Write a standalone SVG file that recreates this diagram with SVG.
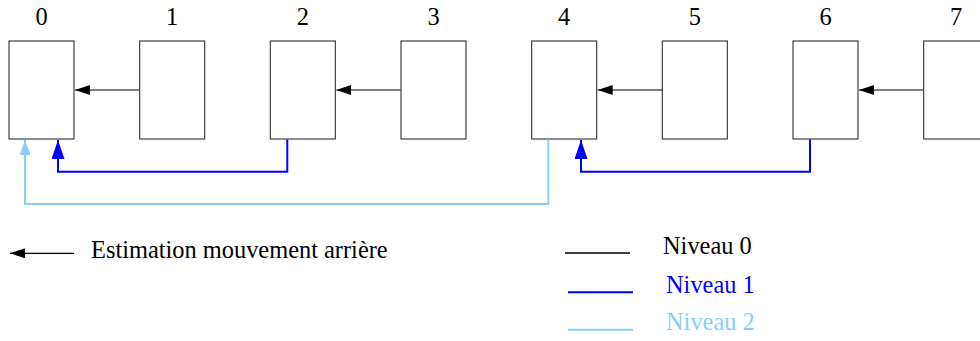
<svg xmlns="http://www.w3.org/2000/svg" width="980" height="341" viewBox="0 0 980 341">
<style>
.box{fill:#fff;stroke:#404040;stroke-width:1.2}
.lbl{font-family:"Liberation Serif","Times New Roman",serif;font-size:24.4px;text-anchor:middle;fill:#000}
.txt{font-family:"Liberation Serif","Times New Roman",serif;font-size:24.4px;fill:#000}
.k{stroke:#555;stroke-width:1.3;fill:none}
.b{stroke:#0000ff;stroke-width:2;fill:none}
.lb{stroke:#87cefa;stroke-width:2;fill:none}
</style>
<defs>
<marker id="ak" markerUnits="userSpaceOnUse" markerWidth="16" markerHeight="10" refX="15" refY="5" orient="auto"><path d="M0,0 L15,5 L0,10 Z" fill="#000"/></marker>
<marker id="ab" markerUnits="userSpaceOnUse" markerWidth="19" markerHeight="13" refX="19" refY="6.5" orient="auto"><path d="M0,0 L19,6.5 L0,13 Z" fill="#0000ff"/></marker>
<marker id="alb" markerUnits="userSpaceOnUse" markerWidth="15" markerHeight="11" refX="15" refY="5.5" orient="auto"><path d="M0,0 L15,5.5 L0,11 Z" fill="#87cefa"/></marker>
</defs>
<g id="node0"><rect class="box" x="9" y="41" width="65" height="98"/><text class="lbl" x="41.5" y="25">0</text></g>
<g id="node1"><rect class="box" x="139.67" y="41" width="65" height="98"/><text class="lbl" x="172.17" y="25">1</text></g>
<g id="node2"><rect class="box" x="270.33" y="41" width="65" height="98"/><text class="lbl" x="302.83" y="25">2</text></g>
<g id="node3"><rect class="box" x="401" y="41" width="65" height="98"/><text class="lbl" x="433.5" y="25">3</text></g>
<g id="node4"><rect class="box" x="531.67" y="41" width="65" height="98"/><text class="lbl" x="564.17" y="25">4</text></g>
<g id="node5"><rect class="box" x="662.33" y="41" width="65" height="98"/><text class="lbl" x="694.83" y="25">5</text></g>
<g id="node6"><rect class="box" x="793" y="41" width="65" height="98"/><text class="lbl" x="825.5" y="25">6</text></g>
<g id="node7"><rect class="box" x="923.67" y="41" width="65" height="98"/><text class="lbl" x="956.17" y="25">7</text></g>
<g id="connectors">
<line class="k" x1="139.67" y1="90" x2="75" y2="90" marker-end="url(#ak)"/>
<line class="k" x1="401" y1="90" x2="336.33" y2="90" marker-end="url(#ak)"/>
<line class="k" x1="662.33" y1="90" x2="597.67" y2="90" marker-end="url(#ak)"/>
<line class="k" x1="923.67" y1="90" x2="859" y2="90" marker-end="url(#ak)"/>
<path class="b" d="M287.3,139.5 V171.7 H58 V140" marker-end="url(#ab)"/>
<path class="b" d="M810,139.5 V171.7 H581 V140" marker-end="url(#ab)"/>
<path class="lb" d="M548.3,139.5 V204 H25 V140" marker-end="url(#alb)"/>
</g>
<g id="legend">
<line x1="74" y1="253.3" x2="10" y2="253.3" stroke="#000" stroke-width="1.3" marker-end="url(#ak)"/>
<text class="txt" x="91" y="257.5">Estimation mouvement arrière</text>
<line x1="565" y1="253" x2="630" y2="253" stroke="#000" stroke-width="1.3"/>
<text class="txt" x="663" y="254.3">Niveau 0</text>
<line x1="568" y1="292.3" x2="633" y2="292.3" stroke="#0000ff" stroke-width="2"/>
<text class="txt" x="666" y="293.3" style="fill:#0000ff">Niveau 1</text>
<line x1="568" y1="329.7" x2="633" y2="329.7" stroke="#87cefa" stroke-width="2"/>
<text class="txt" x="666" y="330" style="fill:#87cefa">Niveau 2</text>
</g>
</svg>
